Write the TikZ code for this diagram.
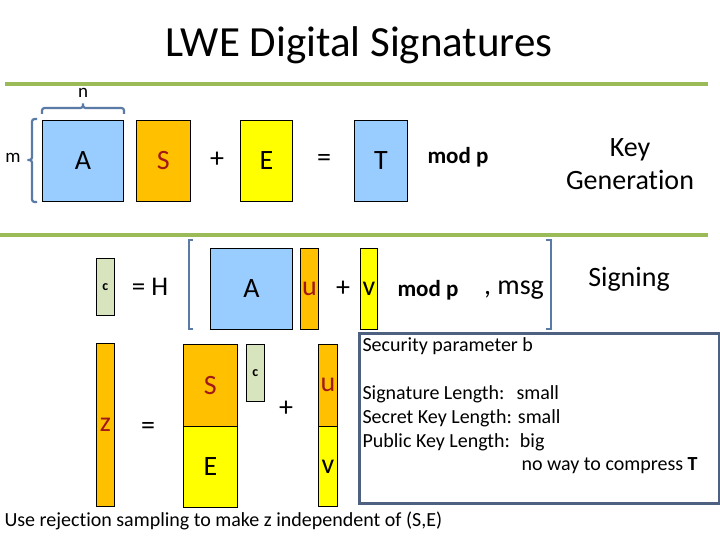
\documentclass[tikz,border=0pt]{standalone}
\usepackage{fontspec}
\setmainfont{Carlito}[Ligatures=NoCommon]
\usetikzlibrary{positioning,decorations.pathreplacing}
\definecolor{lblue}{HTML}{99CCFF}
\definecolor{morange}{HTML}{FFC000}
\definecolor{myellow}{HTML}{FFFF00}
\definecolor{cgreen}{HTML}{D7E4BD}
\definecolor{dred}{HTML}{A01818}
\definecolor{lgreen}{HTML}{9BBB59}
\definecolor{bblue}{HTML}{5A7BA6}
\definecolor{boxline}{HTML}{4F6180}
\tikzset{blk/.style={draw,line width=0.8pt,inner sep=0pt,anchor=north west,font=\fontsize{28}{30}\selectfont},
  ctag/.style={blk,fill=cgreen,minimum width=18pt,font=\fontsize{14}{15}\selectfont\bfseries},
  op/.style={font=\fontsize{28}{30}\selectfont},
  info/.style={anchor=west,font=\fontsize{20}{22}\selectfont},
  brk/.style={bblue,line width=2.2pt},
  sep/.style={lgreen,line width=4pt}}

\begin{document}
\begin{tikzpicture}[x=1pt,y=-1pt]
    \useasboundingbox (0,0) rectangle (720,540);
    \node[font=\fontsize{43}{46}\selectfont] (title) at (359,45) {LWE Digital Signatures};
    \draw[sep] (5,84) -- (708,84);
    \draw[sep] (0,235) -- (708,235);

    % key generation
    \node[blk,fill=lblue,minimum width=81pt,minimum height=81pt] (a) at (42,120) {A};
    \node[blk,fill=morange,minimum width=54pt,minimum height=81pt,text=dred] (s) at (136,120) {S};
    \node[op] (plus1) at (217,160) {+};
    \node[blk,fill=myellow,minimum width=52pt,minimum height=81pt] (e) at (240,120) {E};
    \node[op] (eq1) at (324,160) {=};
    \node[blk,fill=lblue,minimum width=53pt,minimum height=81pt] (t) at (354,120) {T};
    \node[font=\fontsize{23}{25}\selectfont\bfseries] (mod1) at (458,157) {mod p};
    \node[align=center,font=\fontsize{28}{33}\selectfont] (keygen) at (630,164) {Key\\Generation};
    \draw[brk,rounded corners=2.5pt] (42,114) -- (42,108) -- (83,108) -- (83,102) -- (83,108) -- (124,108) -- (124,114);
    \node[font=\fontsize{19}{20}\selectfont] (n) at (83,93) {n};
    \draw[brk,rounded corners=2.5pt] (37,119) -- (32,119) -- (32,160) -- (26,160) -- (32,160) -- (32,202) -- (37,202);
    \node[font=\fontsize{19}{20}\selectfont] (m) at (13,158) {m};

    % signing
    \node[ctag,minimum height=57pt] (c1) at (96,258) {c};
    \node[op,font=\fontsize{27}{30}\selectfont] (eqh) at (150,287) {= H};
    \draw[brk] (193,240) -- (189,240) -- (189,329) -- (193,329);
    \node[blk,fill=lblue,minimum width=82pt,minimum height=81pt] (a2) at (210,248) {A};
    \node[blk,fill=morange,minimum width=18pt,minimum height=81pt,text=dred] (u) at (300,248) {u};
    \node[op] (plus2) at (343,289) {+};
    \node[blk,fill=myellow,minimum width=17pt,minimum height=81pt] (v) at (360,248) {v};
    \node[font=\fontsize{23}{25}\selectfont\bfseries] (mod2) at (428,290) {mod p};
    \node[font=\fontsize{28}{30}\selectfont] (msg) at (514,290) {, msg};
    \draw[brk] (546,240) -- (551,240) -- (551,329) -- (546,329);
    \node[font=\fontsize{28}{30}\selectfont] (sign) at (629,279) {Signing};

    % verification
    \node[blk,fill=morange,minimum width=18pt,minimum height=163pt,text=dred] (z) at (96,343) {z};
    \node[op] (eq2) at (148,428) {=};
    \node[blk,fill=morange,minimum width=54pt,minimum height=82pt,text=dred] (s2) at (183,344) {S};
    \node[blk,fill=myellow,minimum width=54pt,minimum height=81pt] (e2) at (183,426) {E};
    \node[ctag,minimum height=57pt] (c2) at (246,344) {c};
    \node[op] (plus3) at (286,409) {+};
    \node[blk,fill=morange,minimum width=19pt,minimum height=82pt,text=dred] (u2) at (318,344) {u};
    \node[blk,fill=myellow,minimum width=19pt,minimum height=80pt] (v2) at (318,426) {v};

    % parameters
    \node[draw=boxline,line width=3pt,inner sep=0pt,anchor=north west,minimum width=360pt,minimum height=170pt] (params) at (358,332) {};
    \node[info] (secpar) at (359,346) {Security parameter b};
    \node[info] (siglen) at (359,394) {Signature Length:\hspace{0.6em}small};
    \node[info] (sklen) at (359,418) {Secret Key Length: small};
    \node[info] (pklen) at (359,442) {Public Key Length:\hspace{0.5em}big};
    \node[info] (nocomp) at (518,466) {no way to compress \textbf{T}};
    \node[anchor=west,font=\fontsize{20}{22}\selectfont] (reject) at (1,521) {Use rejection sampling to make z independent of (S,E)};
\end{tikzpicture}
\end{document}
